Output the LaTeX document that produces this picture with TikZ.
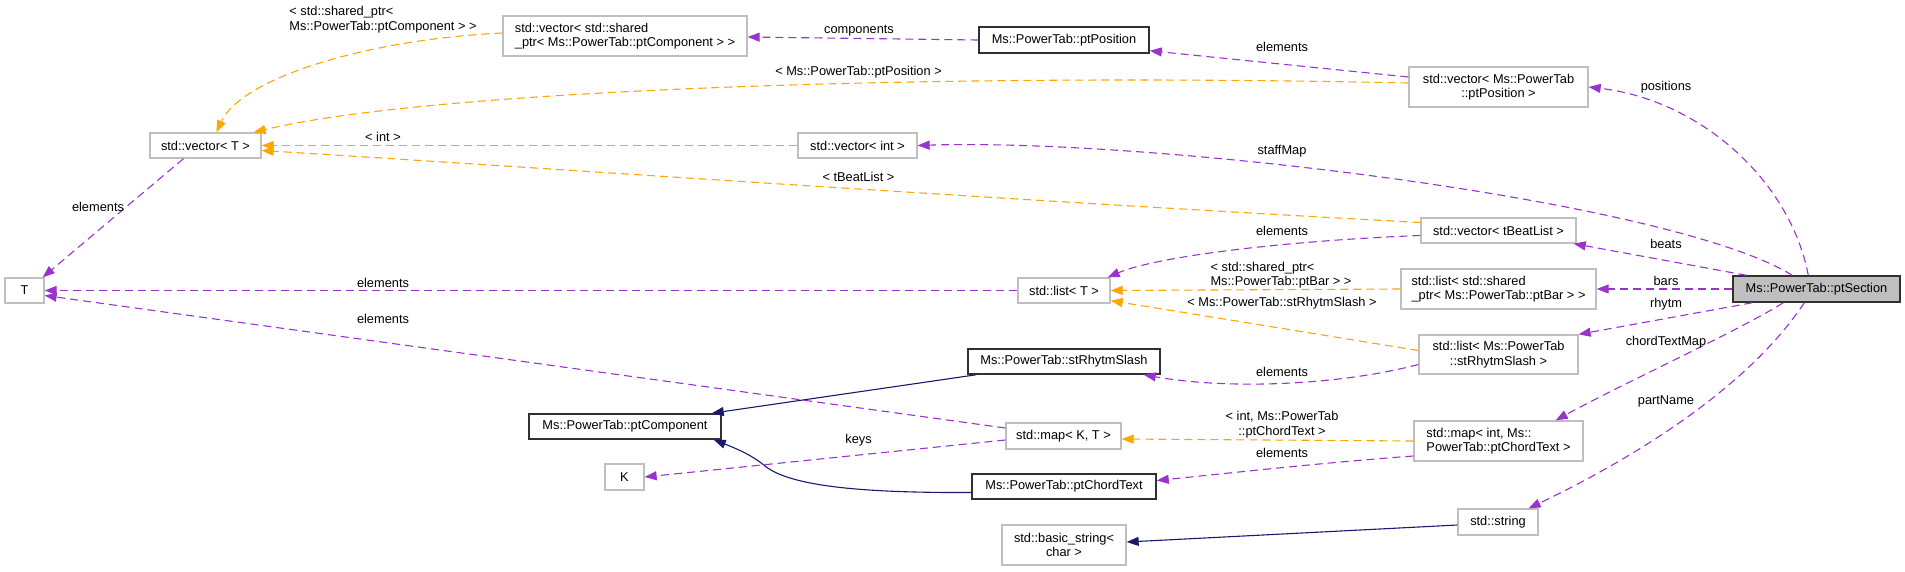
\documentclass[tikz,border=0pt]{standalone}
\usepackage{fontspec}
\setmainfont{Liberation Sans}
\usetikzlibrary{arrows.meta,calc}
\definecolor{edgeP}{HTML}{9A32CD}
\definecolor{edgeO}{HTML}{FFA500}
\definecolor{edgeN}{HTML}{191970}
\definecolor{boxG}{HTML}{BFBFBF}
\definecolor{boxK}{HTML}{303030}
\newcommand\dfont{\fontsize{12.8}{14.5}\selectfont}
\tikzset{
  cls/.style={draw=boxG, line width=1.3pt, inner sep=0pt, font=\dfont, align=center},
  docbox/.style={cls, draw=boxK, line width=1.5pt},
  mem/.style={draw=edgeP, line width=1.1pt, dash pattern=on 8pt off 5pt, -{Triangle[length=12pt,width=9pt]}},
  tmpl/.style={draw=edgeO, line width=1.1pt, dash pattern=on 8pt off 5pt, -{Triangle[length=12pt,width=9pt]}},
  inh/.style={draw=edgeN, line width=1.1pt, -{Triangle[length=12pt,width=9pt]}},
  lbl/.style={font=\dfont, inner sep=0pt, align=center}
}
\begin{document}
\begin{tikzpicture}[x=1pt,y=-1pt]
\useasboundingbox (0,0) rectangle (1905,571);
% nodes
\node[cls, minimum width=111, minimum height=25] (vecT) at (205.5,145.5) {std::vector< T >};
\node[cls, minimum width=39, minimum height=25] (T) at (24.5,290.5) {T};
\node[cls, minimum width=244, minimum height=40, align=left] (sharedvec) at (625,36) {std::vector< std::shared\\\_ptr< Ms::PowerTab::ptComponent > >};
\node[docbox, minimum width=170, minimum height=26] (ptPos) at (1064,40) {Ms::PowerTab::ptPosition};
\node[cls, minimum width=179, minimum height=40] (vecPos) at (1498.5,87) {std::vector< Ms::PowerTab\\::ptPosition >};
\node[cls, minimum width=119, minimum height=25] (vecInt) at (857.5,145.5) {std::vector< int >};
\node[cls, minimum width=155, minimum height=25] (vecBeat) at (1498.5,230.5) {std::vector< tBeatList >};
\node[cls, minimum width=92, minimum height=25] (listT) at (1064,290.5) {std::list< T >};
\node[cls, minimum width=195, minimum height=40, align=left] (listBar) at (1498.5,289) {std::list< std::shared\\\_ptr< Ms::PowerTab::ptBar > >};
\node[docbox, fill=boxG, minimum width=167, minimum height=26] (ptSection) at (1816.5,289) {Ms::PowerTab::ptSection};
\node[docbox, minimum width=192, minimum height=25] (rhytmSlash) at (1064,361.5) {Ms::PowerTab::stRhytmSlash};
\node[cls, minimum width=159, minimum height=39] (listSlash) at (1498.5,354.5) {std::list< Ms::PowerTab\\::stRhytmSlash >};
\node[docbox, minimum width=192, minimum height=25] (ptComp) at (625,426.5) {Ms::PowerTab::ptComponent};
\node[cls, minimum width=115, minimum height=26] (mapKT) at (1063.5,436) {std::map< K, T >};
\node[cls, minimum width=169, minimum height=40, align=left] (mapChord) at (1498.5,441) {std::map< int, Ms::\\PowerTab::ptChordText >};
\node[cls, minimum width=39, minimum height=26] (K) at (624.5,477) {K};
\node[docbox, minimum width=184, minimum height=25] (chordText) at (1064,486.5) {Ms::PowerTab::ptChordText};
\node[cls, minimum width=124, minimum height=40] (basicStr) at (1064,545) {std::basic\_string<\\char >};
\node[cls, minimum width=80, minimum height=26] (str) at (1498,522) {std::string};
% edges
\draw[tmpl] ($(sharedvec.west)+(0,-3)$) .. controls (360,40) and (240,80) .. ($(vecT.north)+(11,0)$);
\draw[mem] (ptPos.west) -- ($(sharedvec.east)+(0,1)$);
\draw[mem] ($(vecPos.west)+(0,-10)$) -- ($(ptPos.south east)+(0,-3)$);
\draw[tmpl] ($(vecPos.west)+(0,-4)$) .. controls (900,72) and (420,92) .. ($(vecT.north east)+(-8,0)$);
\draw[tmpl] (vecInt.west) -- (vecT.east);
\draw[mem] ($(ptSection.north west)+(60,0)$) .. controls (1670,200) and (1150,138) .. (vecInt.east);
\draw[tmpl] ($(vecBeat.west)+(0,-8)$) .. controls (1000,200) and (500,165) .. ($(vecT.east)+(0,5)$);
\draw[mem] ($(vecBeat.west)+(0,5)$) .. controls (1300,240) and (1160,255) .. ($(listT.north east)+(-3,0)$);
\draw[mem] ($(ptSection.north west)+(14,0)$) -- ($(vecBeat.south east)+(-3,0)$);
\draw[mem] (listT.west) -- (T.east);
\draw[tmpl] (listBar.west) -- (listT.east);
\draw[mem] (ptSection.west) -- (listBar.east);
\draw[tmpl] ($(listSlash.west)+(0,-4)$) -- ($(listT.south east)+(0,-3)$);
\draw[mem] ($(listSlash.west)+(0,10)$) .. controls (1340,385) and (1230,390) .. ($(rhytmSlash.south east)+(-17,0)$);
\draw[mem] ($(ptSection.south west)+(20,0)$) -- (listSlash.north east);
\draw[mem] ($(mapKT.west)+(0,-8)$) -- ($(T.east)+(0,5)$);
\draw[mem] ($(mapKT.west)+(0,4)$) -- (K.east);
\draw[tmpl] (mapChord.west) -- ($(mapKT.east)+(0,3)$);
\draw[mem] ($(mapChord.west)+(0,15)$) .. controls (1330,462) and (1230,473) .. ($(chordText.east)+(0,-6)$);
\draw[mem] ($(ptSection.south west)+(51,0)$) .. controls (1740,330) and (1620,385) .. ($(mapChord.north east)+(-28,0)$);
\draw[mem] ($(ptSection.south west)+(72,0)$) .. controls (1750,385) and (1640,455) .. ($(str.north east)+(-10,0)$);
\draw[mem] ($(ptSection.north west)+(76,0)$) .. controls (1790,180) and (1700,100) .. (vecPos.east);
\draw[inh] ($(rhytmSlash.south west)+(9,0)$) -- ($(ptComp.north east)+(-10,0)$);
\draw[inh] ($(chordText.west)+(0,6)$) .. controls (860,493) and (790,486) .. (765,466) .. controls (752,455) and (735,448) .. ($(ptComp.south east)+(-8,0)$);
\draw[inh] ($(str.west)+(0,3)$) -- ($(basicStr.east)+(0,-3)$);
\draw[mem] ($(vecT.south)+(-22,0)$) -- ($(T.north east)+(-2,0)$);
% labels
\node[lbl, align=left] (lb1) at (383,19.5) {< std::shared\_ptr<\\Ms::PowerTab::ptComponent > >};
\node[lbl] (lb2) at (859,31) {components};
\node[lbl] (lb3) at (1282,47) {elements};
\node[lbl] (lb4) at (858.5,72) {< Ms::PowerTab::ptPosition >};
\node[lbl] (lb5) at (383,137) {< int >};
\node[lbl] (lb6) at (1282,151) {staffMap};
\node[lbl] (lb7) at (858.5,177) {< tBeatList >};
\node[lbl] (lb8) at (98,207) {elements};
\node[lbl] (lb9) at (1282,231) {elements};
\node[lbl, align=left] (lb10) at (1281,275) {< std::shared\_ptr<\\Ms::PowerTab::ptBar > >};
\node[lbl] (lb11) at (383,283) {elements};
\node[lbl] (lb12) at (1666,87) {positions};
\node[lbl] (lb13) at (1666,244) {beats};
\node[lbl] (lb14) at (1666,281) {bars};
\node[lbl] (lb15) at (1666,304) {rhytm};
\node[lbl] (lb16) at (1282,303) {< Ms::PowerTab::stRhytmSlash >};
\node[lbl] (lb17) at (383,319) {elements};
\node[lbl] (lb18) at (1666,342) {chordTextMap};
\node[lbl] (lb19) at (1282,372) {elements};
\node[lbl] (lb20) at (1666,401) {partName};
\node[lbl] (lb21) at (1282,424.5) {< int, Ms::PowerTab\\::ptChordText >};
\node[lbl] (lb22) at (858.5,440) {keys};
\node[lbl] (lb23) at (1282,453) {elements};
\end{tikzpicture}
\end{document}
